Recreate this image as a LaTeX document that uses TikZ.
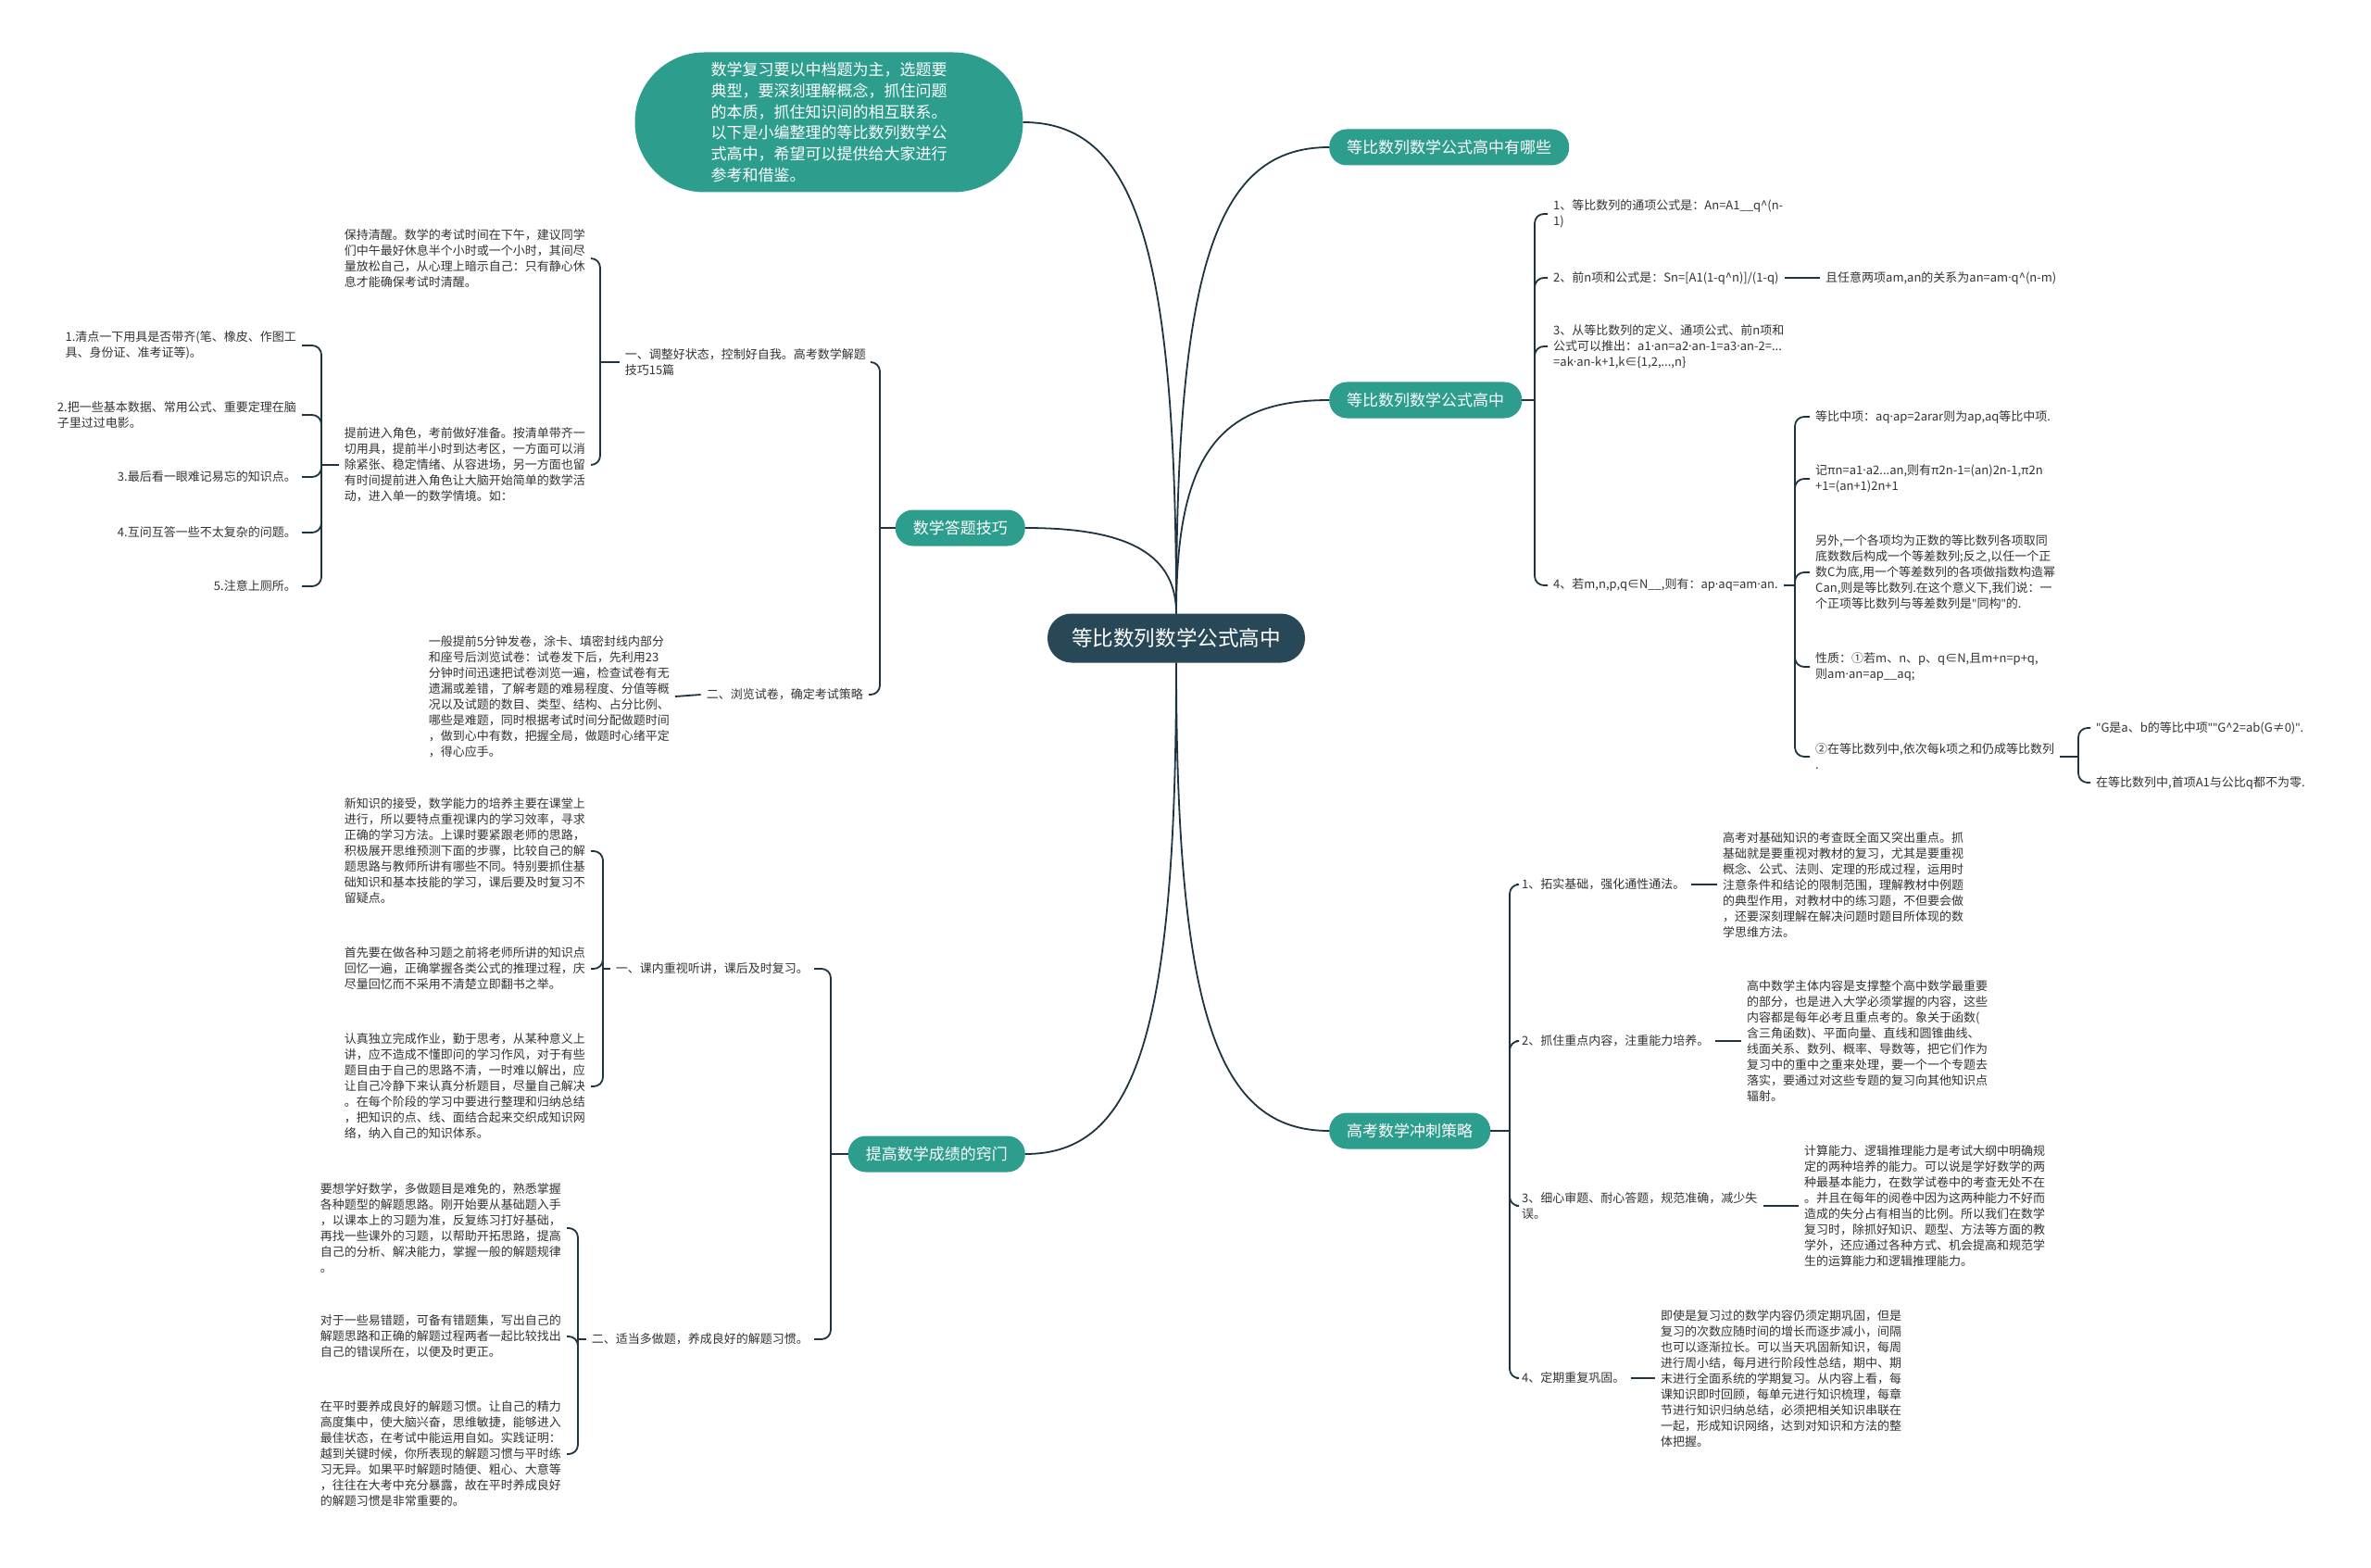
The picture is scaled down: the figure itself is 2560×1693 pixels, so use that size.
\documentclass[tikz,border=0pt]{standalone}
\usepackage{fontspec}
\setmainfont{Noto Sans CJK SC}
\newfontfamily\latinfont{Noto Sans}
\newcommand{\pdot}{{\latinfont ·}}
\newcommand{\dq}{{\latinfont "}}
\usepackage{xcolor}
\usepackage{tikz}
\definecolor{mapteal}{RGB}{45,157,141}
\definecolor{mapdark}{RGB}{40,72,88}
\definecolor{mapline}{RGB}{30,52,64}
\definecolor{maptext}{RGB}{51,51,51}
\begin{document}
\begin{tikzpicture}[x=1pt, y=-1pt,
  root/.style={fill=mapdark, text=white, rounded corners=26pt, minimum height=53pt, inner xsep=26pt, font=\fontsize{22.6}{26}\selectfont},
  topic/.style={fill=mapteal, text=white, rounded corners=19pt, minimum height=39pt, inner xsep=19pt, font=\fontsize{17}{20}\selectfont},
  bubble/.style={fill=mapteal, text=white, rounded corners=75pt, minimum width=419pt, minimum height=151pt, align=left, font=\fontsize{17}{22.7}\selectfont},
  leaf/.style={text=maptext, align=left, inner xsep=6pt, inner ysep=2pt, font=\fontsize{13}{17}\selectfont},
  branch/.style={draw=mapline, line width=1.8pt},
  link/.style={branch, rounded corners=10pt}]
\useasboundingbox (0,0) rectangle (2560,1693);
\fill[white] (0,0) rectangle (2560,1693);
\node[root] (root) at (1270,689) {等比数列数学公式高中};
\node[bubble] (intro) at (895,132) {数学复习要以中档题为主，选题要\\典型，要深刻理解概念，抓住问题\\的本质，抓住知识间的相互联系。\\以下是小编整理的等比数列数学公\\式高中，希望可以提供给大家进行\\参考和借鉴。};
\node[topic, anchor=west] (whichq) at (1435,159) {等比数列数学公式高中有哪些};
\node[topic, anchor=west] (formula) at (1435,432) {等比数列数学公式高中};
\node[topic, anchor=west] (sprint) at (1435,1221) {高考数学冲刺策略};
\node[topic, anchor=east] (skill) at (1107,570) {数学答题技巧};
\node[topic, anchor=east] (improve) at (1107,1246) {提高数学成绩的窍门};

\node[leaf, anchor=west] (f1) at (1671,231) {1、等比数列的通项公式是：An=A1\_\_q\textasciicircum(n-\\1)};
\node[leaf, anchor=west] (f2) at (1671,300) {2、前n项和公式是：Sn=[A1(1-q\textasciicircum n)]/(1-q)};
\node[leaf, anchor=west] (f2a) at (1965,300) {且任意两项am,an的关系为an=am\pdot q\textasciicircum(n-m)};
\node[leaf, anchor=west] (f3) at (1671,374) {3、从等比数列的定义、通项公式、前n项和\\公式可以推出：a1\pdot an=a2\pdot an-1=a3\pdot an-2=...\\=ak\pdot an-k+1,k∈\{1,2,...,n\}};
\node[leaf, anchor=west] (f4) at (1671,632) {4、若m,n,p,q∈N\_\_,则有：ap\pdot aq=am\pdot an.};
\node[leaf, anchor=west] (g1) at (1954,450) {等比中项：aq\pdot ap=2arar则为ap,aq等比中项.};
\node[leaf, anchor=west] (g2) at (1954,517) {记πn=a1\pdot a2...an,则有π2n-1=(an)2n-1,π2n\\+1=(an+1)2n+1};
\node[leaf, anchor=west] (g3) at (1954,618) {另外,一个各项均为正数的等比数列各项取同\\底数数后构成一个等差数列;反之,以任一个正\\数C为底,用一个等差数列的各项做指数构造幂\\Can,则是等比数列.在这个意义下,我们说：一\\个正项等比数列与等差数列是\dq 同构\dq 的.};
\node[leaf, anchor=west] (g4) at (1954,720) {性质：①若m、n、p、q∈N,且m+n=p+q,\\则am\pdot an=ap\_\_aq;};
\node[leaf, anchor=west] (g5) at (1954,817) {②在等比数列中,依次每k项之和仍成等比数列\\.};
\node[leaf, anchor=west] (h1) at (2257,786) {\dq G是a、b的等比中项\dq\dq G\textasciicircum 2=ab(G≠0)\dq .};
\node[leaf, anchor=west] (h2) at (2257,845) {在等比数列中,首项A1与公比q都不为零.};

\node[leaf, anchor=west] (c1) at (1637,955) {1、拓实基础，强化通性通法。};
\node[leaf, anchor=west] (c1a) at (1854,955) {高考对基础知识的考查既全面又突出重点。抓\\基础就是要重视对教材的复习，尤其是要重视\\概念、公式、法则、定理的形成过程，运用时\\注意条件和结论的限制范围，理解教材中例题\\的典型作用，对教材中的练习题，不但要会做\\，还要深刻理解在解决问题时题目所体现的数\\学思维方法。};
\node[leaf, anchor=west] (c2) at (1637,1124) {2、抓住重点内容，注重能力培养。};
\node[leaf, anchor=west] (c2a) at (1880,1124) {高中数学主体内容是支撑整个高中数学最重要\\的部分，也是进入大学必须掌握的内容，这些\\内容都是每年必考且重点考的。象关于函数(\\含三角函数)、平面向量、直线和圆锥曲线、\\线面关系、数列、概率、导数等，把它们作为\\复习中的重中之重来处理，要一个一个专题去\\落实，要通过对这些专题的复习向其他知识点\\辐射。};
\node[leaf, anchor=west] (c3) at (1637,1302) {3、细心审题、耐心答题，规范准确，减少失\\误。};
\node[leaf, anchor=west] (c3a) at (1942,1302) {计算能力、逻辑推理能力是考试大纲中明确规\\定的两种培养的能力。可以说是学好数学的两\\种最基本能力，在数学试卷中的考查无处不在\\。并且在每年的阅卷中因为这两种能力不好而\\造成的失分占有相当的比例。所以我们在数学\\复习时，除抓好知识、题型、方法等方面的教\\学外，还应通过各种方式、机会提高和规范学\\生的运算能力和逻辑推理能力。};
\node[leaf, anchor=west] (c4) at (1637,1488) {4、定期重复巩固。};
\node[leaf, anchor=west] (c4a) at (1787,1488) {即使是复习过的数学内容仍须定期巩固，但是\\复习的次数应随时间的增长而逐步减小，间隔\\也可以逐渐拉长。可以当天巩固新知识，每周\\进行周小结，每月进行阶段性总结，期中、期\\末进行全面系统的学期复习。从内容上看，每\\课知识即时回顾，每单元进行知识梳理，每章\\节进行知识归纳总结，必须把相关知识串联在\\一起，形成知识网络，达到对知识和方法的整\\体把握。};

\node[leaf, anchor=east] (s1) at (941,391) {一、调整好状态，控制好自我。高考数学解题\\技巧15篇};
\node[leaf, anchor=east] (s1a) at (638,279) {保持清醒。数学的考试时间在下午，建议同学\\们中午最好休息半个小时或一个小时，其间尽\\量放松自己，从心理上暗示自己：只有静心休\\息才能确保考试时清醒。};
\node[leaf, anchor=east] (s1b) at (638,502) {提前进入角色，考前做好准备。按清单带齐一\\切用具，提前半小时到达考区，一方面可以消\\除紧张、稳定情绪、从容进场，另一方面也留\\有时间提前进入角色让大脑开始简单的数学活\\动，进入单一的数学情境。如：};
\node[leaf, anchor=east] (p1) at (326,373) {1.清点一下用具是否带齐(笔、橡皮、作图工\\具、身份证、准考证等)。};
\node[leaf, anchor=east] (p2) at (326,448) {2.把一些基本数据、常用公式、重要定理在脑\\子里过过电影。};
\node[leaf, anchor=east] (p3) at (326,515) {3.最后看一眼难记易忘的知识点。};
\node[leaf, anchor=east] (p4) at (326,575) {4.互问互答一些不太复杂的问题。};
\node[leaf, anchor=east] (p5) at (326,633) {5.注意上厕所。};
\node[leaf, anchor=east] (s2) at (938,750) {二、浏览试卷，确定考试策略};
\node[leaf, anchor=east] (s2a) at (729,752) {一般提前5分钟发卷，涂卡、填密封线内部分\\和座号后浏览试卷：试卷发下后，先利用23\\分钟时间迅速把试卷浏览一遍，检查试卷有无\\遗漏或差错，了解考题的难易程度、分值等概\\况以及试题的数目、类型、结构、占分比例、\\哪些是难题，同时根据考试时间分配做题时间\\，做到心中有数，把握全局，做题时心绪平定\\，得心应手。};

\node[leaf, anchor=east] (m1) at (879,1046) {一、课内重视听讲，课后及时复习。};
\node[leaf, anchor=east] (m1a) at (638,919) {新知识的接受，数学能力的培养主要在课堂上\\进行，所以要特点重视课内的学习效率，寻求\\正确的学习方法。上课时要紧跟老师的思路，\\积极展开思维预测下面的步骤，比较自己的解\\题思路与教师所讲有哪些不同。特别要抓住基\\础知识和基本技能的学习，课后要及时复习不\\留疑点。};
\node[leaf, anchor=east] (m1b) at (638,1046) {首先要在做各种习题之前将老师所讲的知识点\\回忆一遍，正确掌握各类公式的推理过程，庆\\尽量回忆而不采用不清楚立即翻书之举。};
\node[leaf, anchor=east] (m1c) at (638,1173) {认真独立完成作业，勤于思考，从某种意义上\\讲，应不造成不懂即问的学习作风，对于有些\\题目由于自己的思路不清，一时难以解出，应\\让自己冷静下来认真分析题目，尽量自己解决\\。在每个阶段的学习中要进行整理和归纳总结\\，把知识的点、线、面结合起来交织成知识网\\络，纳入自己的知识体系。};
\node[leaf, anchor=east] (m2) at (879,1446) {二、适当多做题，养成良好的解题习惯。};
\node[leaf, anchor=east] (m2a) at (612,1326) {要想学好数学，多做题目是难免的，熟悉掌握\\各种题型的解题思路。刚开始要从基础题入手\\，以课本上的习题为准，反复练习打好基础，\\再找一些课外的习题，以帮助开拓思路，提高\\自己的分析、解决能力，掌握一般的解题规律\\。};
\node[leaf, anchor=east] (m2b) at (612,1443) {对于一些易错题，可备有错题集，写出自己的\\解题思路和正确的解题过程两者一起比较找出\\自己的错误所在，以便及时更正。};
\node[leaf, anchor=east] (m2c) at (612,1570) {在平时要养成良好的解题习惯。让自己的精力\\高度集中，使大脑兴奋，思维敏捷，能够进入\\最佳状态，在考试中能运用自如。实践证明：\\越到关键时候，你所表现的解题习惯与平时练\\习无异。如果平时解题时随便、粗心、大意等\\，往往在大考中充分暴露，故在平时养成良好\\的解题习惯是非常重要的。};

\coordinate (formulaT) at (1657,432);
\coordinate (f4T) at (1938,632);
\coordinate (g5T) at (2244,817);
\coordinate (sprintT) at (1630,1221);
\coordinate (skillT) at (950,570);
\coordinate (s1T) at (648,391);
\coordinate (s1bT) at (347,502);
\coordinate (improveT) at (897,1246);
\coordinate (m1T) at (651,1046);
\coordinate (m2T) at (624,1446);

\draw[branch] (root.north) .. controls +(0,-380) and +(-120,0) .. (whichq.west);
\draw[branch] (root.north) .. controls +(0,-170) and +(-120,0) .. (formula.west);
\draw[branch] (root.north) .. controls +(0,-400) and +(120,0) .. (intro.east);
\draw[branch] (root.north) .. controls +(0,-70) and +(100,0) .. (skill.east);
\draw[branch] (root.south) .. controls +(0,380) and +(-120,0) .. (sprint.west);
\draw[branch] (root.south) .. controls +(0,400) and +(120,0) .. (improve.east);

\draw[branch] (formula.east) -- (formulaT);
\foreach \c in {f1,f2,f3,f4} \draw[link] (formulaT) |- (\c.west);
\draw[branch] (f2.east) -- (f2a.west);
\draw[branch] (f4.east) -- (f4T);
\foreach \c in {g1,g2,g3,g4,g5} \draw[link] (f4T) |- (\c.west);
\draw[branch] (g5.east) -- (g5T);
\foreach \c in {h1,h2} \draw[link] (g5T) |- (\c.west);
\draw[branch] (sprint.east) -- (sprintT);
\foreach \c in {c1,c2,c3,c4} \draw[link] (sprintT) |- (\c.west);
\foreach \c in {c1,c2,c3,c4} \draw[branch] (\c.east) -- (\c a.west);

\draw[branch] (skill.west) -- (skillT);
\foreach \c in {s1,s2} \draw[link] (skillT) |- (\c.east);
\draw[branch] (s1.west) -- (s1T);
\foreach \c in {s1a,s1b} \draw[link] (s1T) |- (\c.east);
\draw[branch] (s1b.west) -- (s1bT);
\foreach \c in {p1,p2,p3,p4,p5} \draw[link] (s1bT) |- (\c.east);
\draw[branch] (s2.west) -- (s2a.east);
\draw[branch] (improve.west) -- (improveT);
\foreach \c in {m1,m2} \draw[link] (improveT) |- (\c.east);
\draw[branch] (m1.west) -- (m1T);
\foreach \c in {m1a,m1b,m1c} \draw[link] (m1T) |- (\c.east);
\draw[branch] (m2.west) -- (m2T);
\foreach \c in {m2a,m2b,m2c} \draw[link] (m2T) |- (\c.east);
\end{tikzpicture}
\end{document}
